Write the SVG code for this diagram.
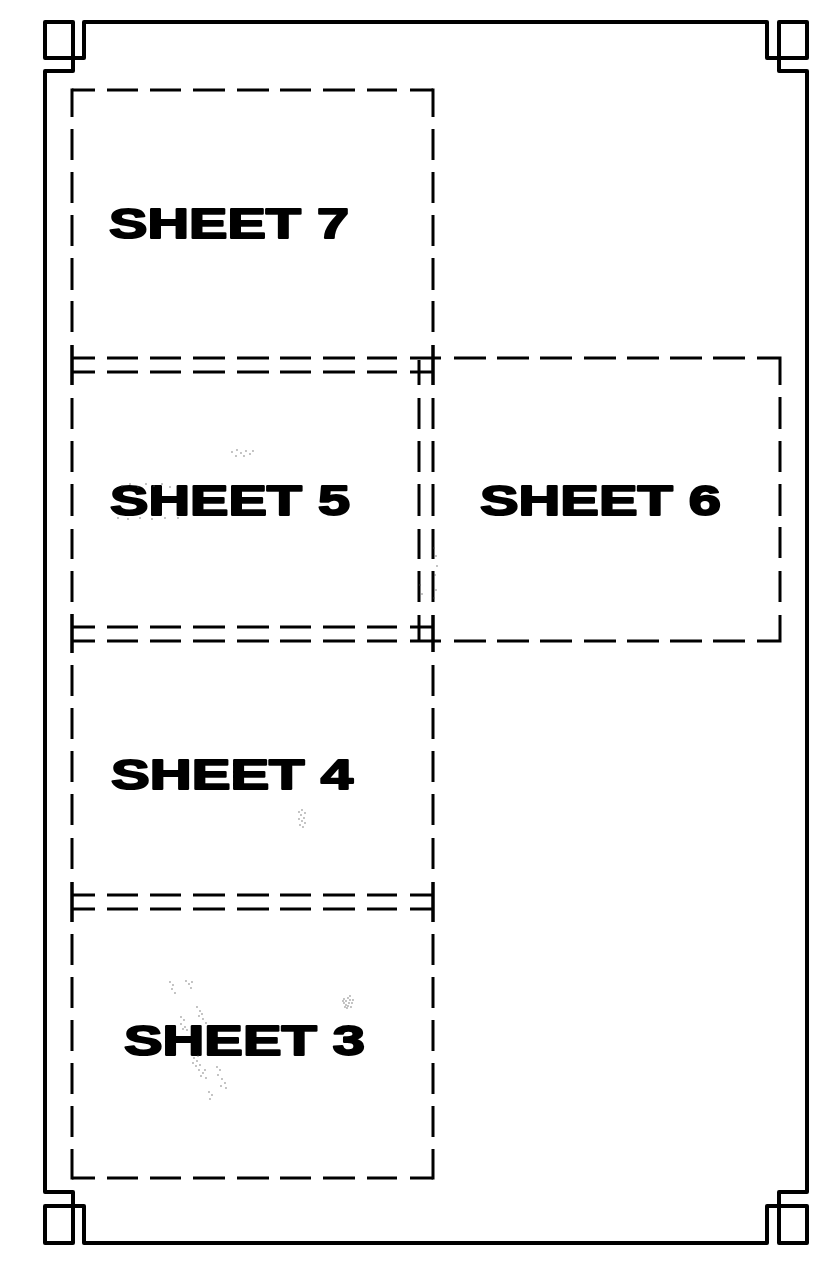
<svg xmlns="http://www.w3.org/2000/svg" width="828" height="1267" viewBox="0 0 828 1267">
<style>
.frame{fill:none;stroke:#000;stroke-width:4;stroke-linejoin:round;stroke-linecap:round}
.dash{fill:none;stroke:#000;stroke-width:3;stroke-linecap:butt;stroke-linejoin:miter}
.label{font-family:"Liberation Sans",Arial,sans-serif;font-weight:700;font-size:43px;fill:#000;stroke:#000;stroke-width:2;stroke-linejoin:round}
.smudge{fill:none;stroke:#555;stroke-width:1.3;stroke-linecap:round}
</style>
<defs>
<path id="hrow" d="M72 0H95M107 0H138M150 0H181M193 0H225M237 0H269M280 0H311M323 0H355M367 0H397"/>
</defs>
<g id="frame" class="frame">
<path d="M84 22H767V58H807V22H779V71H807V1192H779V1243H807V1206H767V1243H84V1206H45V1243H73V1192H45V71H73V22H45V58H84V22"/>
</g>
<g id="sheet-7" class="dash">
<use href="#hrow" y="90"/><path d="M410 90H433"/>
<use href="#hrow" y="372"/><path d="M410 372H434"/>
<path d="M72 88.500V117M72 129V160M72 172V203M72 215V246M72 258V290M72 301V332M72 345V385"/>
<path d="M433 88.500V117M433 129V160M433 172V203M433 215V246M433 258V290M433 301V332M433 345V385"/>
<text class="label" x="109" y="238" textLength="240" lengthAdjust="spacingAndGlyphs">SHEET 7</text>
</g>
<g id="sheet-5" class="dash">
<use href="#hrow" y="358"/><path d="M410 358H441"/>
<use href="#hrow" y="641"/><path d="M410 641H441"/>
<path d="M72 345V385M72 398V429M72 441V472M72 484V516M72 529V559M72 571V602M72 614V653"/>
<path d="M433 345V385M433 398V429M433 441V472M433 484V516M433 529V559M433 571V602M433 615V652"/>
<text class="label" x="110" y="515" textLength="240" lengthAdjust="spacingAndGlyphs">SHEET 5</text>
</g>
<g id="sheet-6" class="dash">
<path d="M454 358H486M497 358H529M540 358H572M584 358H616M627 358H659M670 358H702M713 358H745M757 358H780V385M780 397V429M780 441V472M780 484V516M780 527V558M780 571V602M780 615V641H757M745 641H713M702 641H670M659 641H627M616 641H584M572 641H540M529 641H497M486 641H454"/>
<path d="M419 360V385M419 398V429M419 441V472M419 484V516M419 529V559M419 571V602M419 615V641"/>
<text class="label" x="480" y="515" textLength="241" lengthAdjust="spacingAndGlyphs">SHEET 6</text>
</g>
<g id="sheet-4" class="dash">
<use href="#hrow" y="627"/><path d="M410 627H434"/>
<use href="#hrow" y="909"/><path d="M410 909H433"/>
<path d="M72 614V653M72 665V696M72 708V739M72 751V782M72 794V825M72 838V869M72 882V922"/>
<path d="M433 615V652M433 665V696M433 708V739M433 751V782M433 794V825M433 838V869M433 882V922"/>
<text class="label" x="111" y="789" textLength="242" lengthAdjust="spacingAndGlyphs">SHEET 4</text>
</g>
<g id="sheet-3" class="dash">
<use href="#hrow" y="895"/><path d="M410 895H433"/>
<use href="#hrow" y="1178"/><path d="M410 1178H433"/>
<path d="M72 882V922M72 934V965M72 977V1008M72 1020V1051M72 1063V1094M72 1106V1137M72 1149V1179.500"/>
<path d="M433 882V922M433 934V965M433 977V1008M433 1020V1051M433 1063V1094M433 1106V1137M433 1149V1179.500"/>
<text class="label" x="124" y="1055" textLength="241" lengthAdjust="spacingAndGlyphs">SHEET 3</text>
</g>
<g id="smudges" class="smudge">
<path d="M170 982h0M173 985h0M172 989h0M175 993h0M186 981h0M189 984h0M192 982h0M191 988h0M181 1017h0M184 1020h0M181 1024h0M185 1027h0M187 1030h0M183 1029h0M197 1007h0M200 1011h0M199 1016h0M203 1019h0M206 1023h0M202 1014h0M194 1058h0M197 1061h0M196 1066h0M200 1065h0M199 1070h0M203 1073h0M201 1076h0M206 1078h0M193 1063h0M198 1056h0M205 1070h0M217 1067h0M220 1070h0M218 1075h0M222 1079h0M225 1083h0M221 1086h0M226 1088h0M209 1092h0M212 1095h0M210 1099h0"/>
<path d="M344 999h0M346 1001h0M348 998h0M350 1000h0M352 1003h0M349 1003h0M346 1005h0M344 1003h0M348 1006h0M351 1007h0M347 1008h0M343 1001h0M353 1000h0M350 996h0M345 1007h0"/>
<path d="M299 812h0M302 810h0M305 813h0M301 815h0M304 818h0M299 819h0M302 821h0M305 823h0M300 825h0M303 827h0"/>
<path d="M232 452h0M237 450h0M241 453h0M246 451h0M250 454h0M244 456h0M236 456h0M253 451h0"/>
<path d="M122 486h0M130 484h0M138 487h0M146 484h0M154 486h0M162 484h0M170 487h0M118 518h0M128 519h0M140 518h0M152 519h0M165 518h0M178 518h0"/>
<path d="M434 548h0M436 556h0M437 566h0M435 575h0M436 590h0M434 598h0M420 585h0M422 594h0"/>
</g>
</svg>
